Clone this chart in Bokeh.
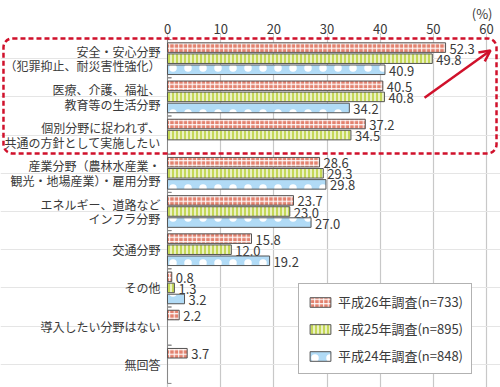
from bokeh.plotting import figure
from bokeh.models import (ColumnDataSource, FactorRange, Range1d, FixedTicker, Title,
                          BoxAnnotation, Arrow, OpenHead, Legend)
from bokeh.transform import dodge
from bokeh.core.properties import value
from bokeh.embed import file_html
from bokeh.resources import INLINE

categories = [
    "安全・安心分野\n（犯罪抑止、耐災害性強化）",
    "医療、介護、福祉、\n教育等の生活分野",
    "個別分野に捉われず、\n共通の方針として実施したい",
    "産業分野（農林水産業・\n観光・地場産業）・雇用分野",
    "エネルギー、道路など\nインフラ分野",
    "交通分野",
    "その他",
    "導入したい分野はない",
    "無回答",
]
h26 = [52.3, 40.5, 37.2, 28.6, 23.7, 15.8, 0.8, 2.2, 3.7]
h25 = [49.8, 40.8, 34.5, 29.3, 23.0, 12.0, 1.3, None, None]
h24 = [40.9, 34.2, None, 29.8, 27.0, 19.2, 3.2, None, None]
series_names = ["平成26年調査(n=733)", "平成25年調査(n=895)", "平成24年調査(n=848)"]
x_ticks = [0, 10, 20, 30, 40, 50, 60]

FONT = "Noto Sans CJK JP"
TXT = "#3a3a3a"
RED = "#d0112b"

n = len(categories)
p = figure(width=500, height=387, output_backend="svg", toolbar_location=None,
           y_range=FactorRange(factors=list(reversed(categories)),
                               range_padding=0.107, range_padding_units="absolute"),
           x_range=Range1d(-31.41, 62.63), x_axis_location="above", y_axis_location=None,
           min_border_left=0, min_border_right=0, min_border_top=35, min_border_bottom=0)
p.title = Title(text="(%)", align="right", offset=8, standoff=-5, text_font=FONT,
                text_font_size="13px", text_font_style="normal", text_color=TXT)
p.outline_line_color = None
p.xgrid.grid_line_color = "#c8c8c8"
p.xgrid.grid_line_width = 1.2

xa = p.xaxis[0]
xa.ticker = FixedTicker(ticks=x_ticks)
xa.axis_line_color = None
xa.major_tick_line_color = "#c8c8c8"
xa.major_tick_out = 2
xa.major_tick_in = 0
xa.minor_tick_line_color = None
xa.major_label_standoff = 0
xa.major_label_text_font = FONT
xa.major_label_text_font_size = "13px"
xa.major_label_text_color = TXT

# category labels
csrc = ColumnDataSource(dict(cat=categories))
p.text(x=0, y="cat", text="cat", source=csrc, x_offset=-7, text_align="right",
       text_baseline="middle", text_line_height=0.86, text_font=value(FONT),
       text_font_size="12px", text_color=TXT)

# left axis line and boundary ticks
asrc = ColumnDataSource(dict(a=[categories[0]], b=[categories[-1]]))
p.segment(x0=0, x1=0, y0=dodge("a", 0.5, range=p.y_range), y1=dodge("b", -0.5, range=p.y_range),
          line_color="#888888", line_width=1, source=asrc)
for d in (0.5, -0.5):
    p.segment(x0=0, x1=0.75, y0=dodge("cat", d, range=p.y_range), y1=dodge("cat", d, range=p.y_range),
              line_color="#888888", line_width=1, source=csrc)

styles = [
    dict(fill_color="#e3826f", hatch_pattern="+", hatch_color="white", hatch_scale=4.5, hatch_weight=1),
    dict(fill_color="#c5d858", hatch_pattern="|", hatch_color="white", hatch_scale=4, hatch_weight=1.3),
    dict(fill_color="#b1dbf6", hatch_pattern=".", hatch_color="white", hatch_scale=15, hatch_weight=1),
]
offsets = [0.29, 0.0, -0.29]
series = [h26, h25, h24]

items = []
for vals, name, st, off in zip(series, series_names, styles, offsets):
    cats = [c for c, v in zip(categories, vals) if v is not None]
    vs = [v for v in vals if v is not None]
    src = ColumnDataSource(dict(cat=cats, val=vs, lbl=[f"{v:.1f}" for v in vs]))
    r = p.hbar(y=dodge("cat", off, range=p.y_range), left=0, right="val", height=0.25,
               line_color="#555555", line_width=1, source=src, **st)
    items.append((name, [r]))
    p.text(x="val", y=dodge("cat", off, range=p.y_range), text="lbl", source=src,
           x_offset=4, y_offset=1, text_baseline="middle", text_align="left",
           text_font=value(FONT), text_font_size="13px", text_color=TXT)

legend = Legend(items=items, location=(298, 13), margin=0, padding=8, spacing=8,
                glyph_width=26, glyph_height=12, label_standoff=5,
                label_text_font=FONT, label_text_font_size="13px", label_text_color=TXT,
                border_line_color="#666666", border_line_width=1, background_fill_alpha=1)
p.add_layout(legend)

box = BoxAnnotation(left=-30.85, right=61.88, top=n + 0.03, bottom=n - 2.98,
                    fill_color=None, fill_alpha=0, line_color=RED, line_alpha=1,
                    line_width=2.5, line_dash="5 3", border_radius=9)
p.add_layout(box)

p.add_layout(Arrow(end=OpenHead(size=11, line_color=RED, line_width=2.5),
                   x_start=48.34, y_start=n - 1.52, x_end=60.75, y_end=n - 0.285,
                   line_color=RED, line_width=2.5))

open("out.html", "w").write(file_html(p, INLINE))
